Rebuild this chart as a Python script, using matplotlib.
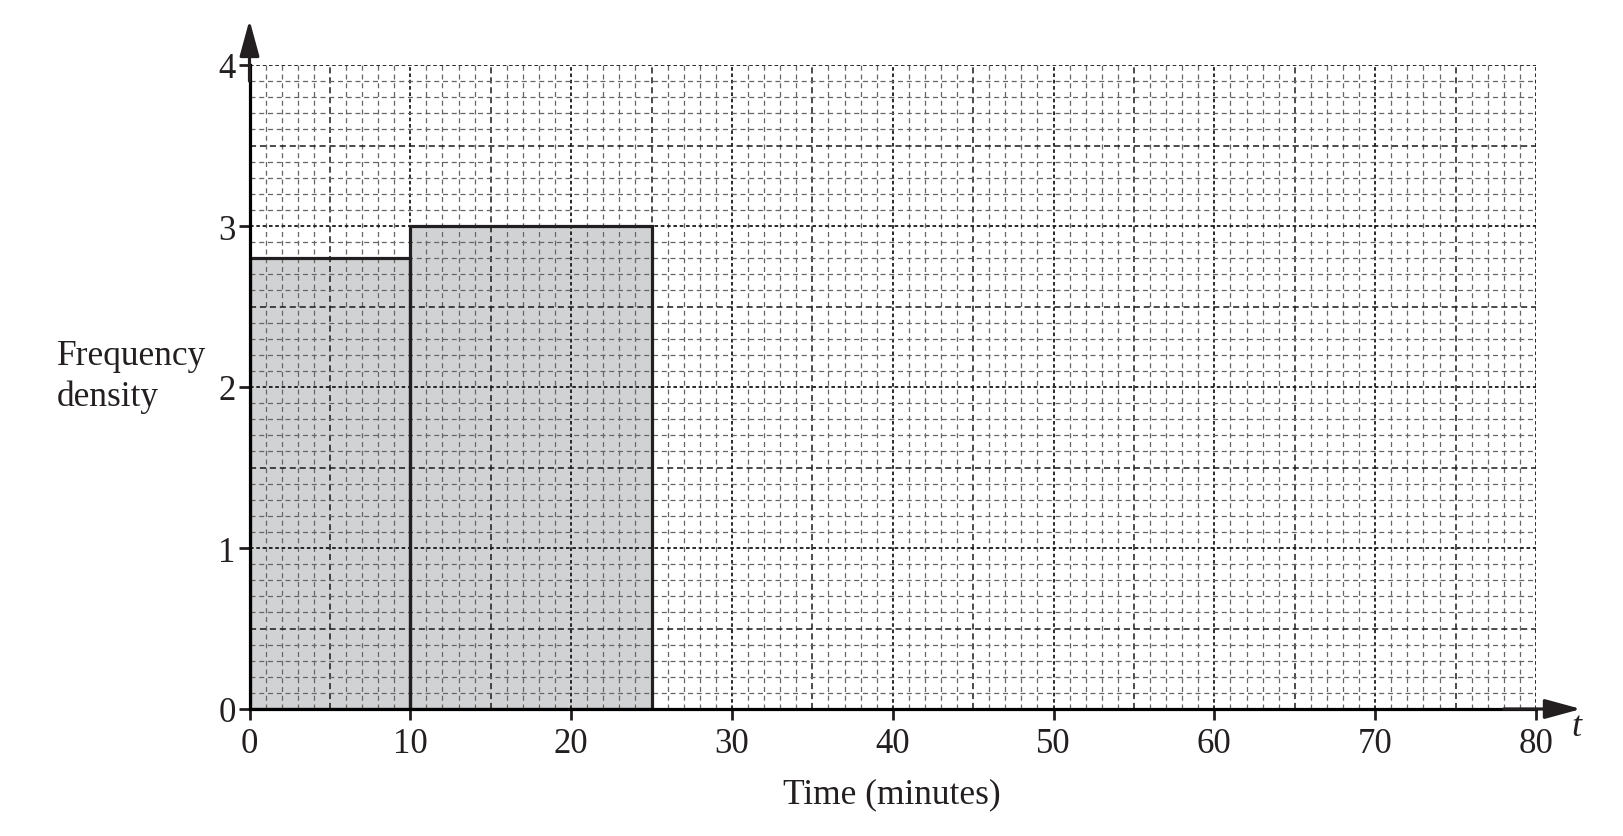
import matplotlib
matplotlib.use('Agg')
import matplotlib.pyplot as plt

# Datos del histograma
bordes_izq = [0, 10]
anchos = [10, 15]
densidad = [2.8, 3.0]

x_ticks = [0, 10, 20, 30, 40, 50, 60, 70, 80]
y_ticks = [0, 1, 2, 3, 4]

plt.rcParams['font.family'] = ['Liberation Serif', 'DejaVu Serif']

fig = plt.figure(figsize=(16.23, 8.37), dpi=100)
ax = fig.add_axes([249.5 / 1623, 127 / 837, 1286.5 / 1623, 644 / 837])
ax.set_xlim(0, 80)
ax.set_ylim(0, 4)

# Barras del histograma
ax.bar(bordes_izq, densidad, width=anchos, align='edge', color='#d1d2d4',
       edgecolor='none', zorder=1)

# Cuadrícula de papel milimetrado
for i in range(1, 81):
    if i % 10 == 0:
        ax.axvline(i, color='#1a1a1a', lw=1.3, ls=(0, (2, 1.5)), zorder=2)
    elif i % 5 == 0:
        ax.axvline(i, color='#1a1a1a', lw=1.1, ls=(0, (4, 2.5)), zorder=2)
    else:
        ax.axvline(i, color='#666666', lw=0.9, ls=(0, (4, 3)), zorder=2)
for j in range(1, 41):
    y = j / 10
    if j % 10 == 0:
        ax.axhline(y, color='#1a1a1a', lw=1.3, ls=(0, (2, 1.5)), zorder=2)
    elif j % 5 == 0:
        ax.axhline(y, color='#1a1a1a', lw=1.1, ls=(0, (4, 2.5)), zorder=2)
    else:
        ax.axhline(y, color='#666666', lw=0.9, ls=(0, (4, 3)), zorder=2)

# Contornos de las barras
ax.bar(bordes_izq, densidad, width=anchos, align='edge', color='none',
       edgecolor='#231f20', linewidth=2.3, zorder=4)

# Ejes con flechas
for s in ['top', 'right']:
    ax.spines[s].set_visible(False)
ax.spines['left'].set_linewidth(2.3)
ax.spines['bottom'].set_linewidth(2.3)
ax.spines['left'].set_zorder(5)
ax.spines['bottom'].set_zorder(5)
ax.annotate('', xy=(0, 4.28), xytext=(0, 3.9), xycoords='data',
            arrowprops=dict(arrowstyle='-|>,head_width=0.6,head_length=2.2',
                            color='#231f20', lw=2.3, shrinkA=0, shrinkB=0),
            annotation_clip=False, zorder=6)
ax.annotate('', xy=(82.8, 0), xytext=(78, 0), xycoords='data',
            arrowprops=dict(arrowstyle='-|>,head_width=0.6,head_length=2.2',
                            color='#231f20', lw=2.3, shrinkA=0, shrinkB=0),
            annotation_clip=False, zorder=6)

ax.set_xticks(x_ticks)
ax.set_yticks(y_ticks)
ax.tick_params(axis='both', direction='out', length=8, width=2, colors='#231f20',
               labelsize=25, labelcolor='#231f20')
ax.tick_params(axis='x', pad=5)
ax.tick_params(axis='y', pad=2)

fig.text(57 / 1623, 1 - 377 / 837, 'Frequency\ndensity', fontsize=25.5,
         ha='left', va='center', color='#231f20', linespacing=1.3)
fig.text(892 / 1623, 1 - 795 / 837, 'Time (minutes)', fontsize=25.5,
         ha='center', va='center', color='#231f20')
fig.text(1576 / 1623, 1 - 728 / 837, 't', fontsize=26, style='italic',
         ha='center', va='center', color='#231f20')

fig.savefig('out.png', dpi=100)
plt.close(fig)
